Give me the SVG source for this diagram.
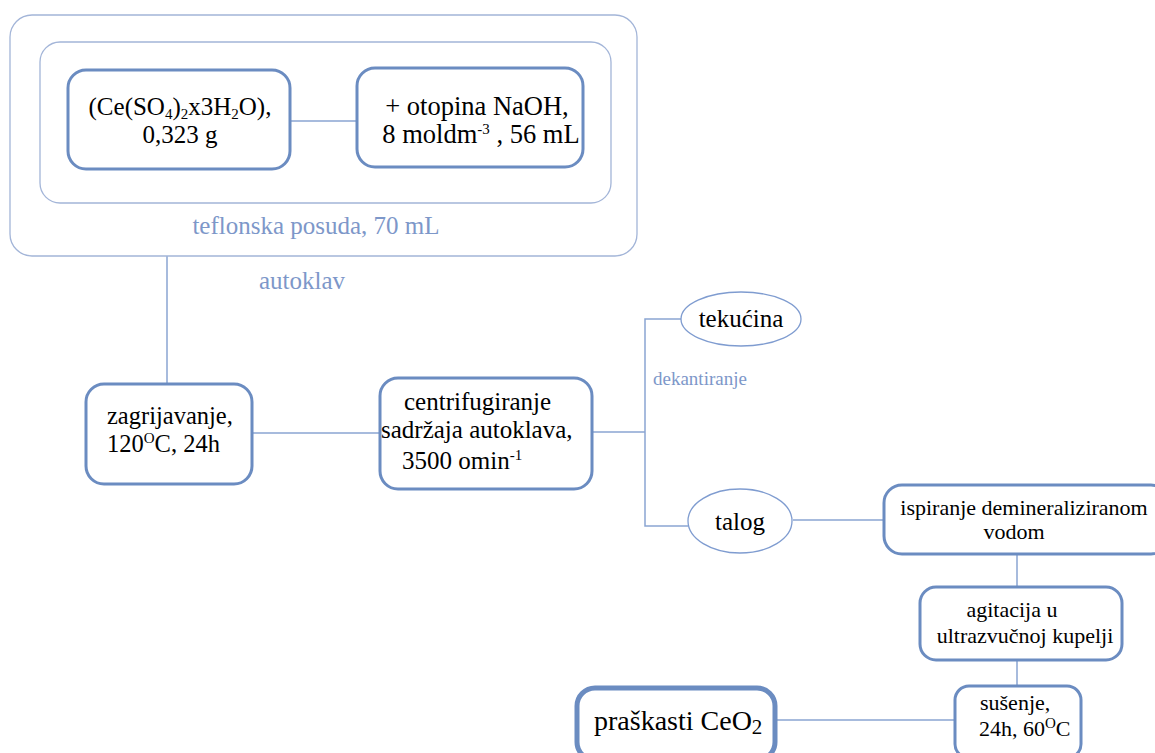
<svg xmlns="http://www.w3.org/2000/svg" width="1155" height="753" viewBox="0 0 1155 753">
<style>
.cont{fill:none;stroke:#a3b5d8;stroke-width:1.3}
.box{fill:#fff;stroke:#6b8cc1;stroke-width:3}
.thick{fill:#fff;stroke:#6b8cc1;stroke-width:5}
.ell{fill:#fff;stroke:#7f9cd0;stroke-width:1.3}
.ln{fill:none;stroke:#8aa5d2;stroke-width:1.5}
.t{font-size:25px;fill:#000}
.m{font-size:22px;fill:#000}
.s{font-size:15px}
.blue{fill:#7d97c9}
</style>
<rect width="1155" height="753" fill="#fff"/>
<g id="connectors">
<line class="ln" x1="290" y1="121" x2="357" y2="121"/>
<line class="ln" x1="167" y1="256" x2="167" y2="384"/>
<line class="ln" x1="252" y1="433" x2="380" y2="433"/>
<polyline class="ln" points="592,432 645,432"/>
<polyline class="ln" points="681,319 645,319 645,526 688,526"/>
<line class="ln" x1="793" y1="520" x2="884" y2="520"/>
<line class="ln" x1="1017" y1="554" x2="1017" y2="587"/>
<line class="ln" x1="1017" y1="660" x2="1017" y2="686"/>
<line class="ln" x1="775" y1="720" x2="955" y2="720"/>
</g>
<g id="autoklav">
<rect class="cont" x="10" y="15" width="627" height="241" rx="22"/>
<text font-family="Liberation Serif" class="blue" x="302" y="289" font-size="25" text-anchor="middle">autoklav</text>
</g>
<g id="teflonska">
<rect class="cont" x="40" y="42" width="571" height="161" rx="20"/>
<text font-family="Liberation Serif" class="blue" x="316" y="234" font-size="25" text-anchor="middle">teflonska posuda, 70 mL</text>
</g>
<g id="n1">
<rect class="box" x="68" y="70" width="222" height="99" rx="18"/>
<text font-family="Liberation Serif" class="t" x="180" y="115" text-anchor="middle">(Ce(SO<tspan class="s" dy="4">4</tspan><tspan dy="-4">)</tspan><tspan class="s" dy="4">2</tspan><tspan dy="-4">x3H</tspan><tspan class="s" dy="4">2</tspan><tspan dy="-4">O),</tspan></text>
<text font-family="Liberation Serif" class="t" x="180" y="143" text-anchor="middle">0,323 g</text>
</g>
<g id="n2">
<rect class="box" x="357" y="68" width="226" height="99" rx="18"/>
<text font-family="Liberation Serif" class="t" style="font-size:26.5px" x="477" y="115" text-anchor="middle">+ otopina NaOH,</text>
<text font-family="Liberation Serif" class="t" style="font-size:26.5px" x="481" y="143" text-anchor="middle">8 moldm<tspan class="s" dy="-9">-3</tspan><tspan dy="9"> , 56 mL</tspan></text>
</g>
<g id="n3">
<rect class="box" x="86" y="384" width="166" height="100" rx="18"/>
<text font-family="Liberation Serif" class="t" style="font-size:24.5px" x="107" y="424">zagrijavanje,</text>
<text font-family="Liberation Serif" class="t" style="font-size:24.5px" x="107" y="452">120<tspan class="s" dy="-9">O</tspan><tspan dy="9">C, 24h</tspan></text>
</g>
<g id="n4">
<rect class="box" x="380" y="378" width="212" height="111" rx="18"/>
<text font-family="Liberation Serif" class="t" x="404" y="410">centrifugiranje</text>
<text font-family="Liberation Serif" class="t" x="381" y="438">sadržaja autoklava,</text>
<text font-family="Liberation Serif" class="t" x="402" y="469">3500 omin<tspan class="s" dy="-9">-1</tspan></text>
</g>
<g id="n5">
<ellipse class="ell" cx="741" cy="319" rx="60" ry="27"/>
<text font-family="Liberation Serif" class="t" x="741" y="327" text-anchor="middle">tekućina</text>
</g>
<text font-family="Liberation Serif" class="blue" x="653" y="385" font-size="19">dekantiranje</text>
<g id="n6">
<ellipse class="ell" cx="740" cy="521" rx="52" ry="32"/>
<text font-family="Liberation Serif" class="t" x="740" y="530" text-anchor="middle">talog</text>
</g>
<g id="n7">
<rect class="box" x="884" y="485" width="285" height="69" rx="18"/>
<text font-family="Liberation Serif" class="m" x="1024" y="515" text-anchor="middle">ispiranje demineraliziranom</text>
<text font-family="Liberation Serif" class="m" x="1014" y="539" text-anchor="middle">vodom</text>
</g>
<g id="n8">
<rect class="box" x="920" y="587" width="202" height="73" rx="16"/>
<text font-family="Liberation Serif" class="m" x="1012" y="617" text-anchor="middle">agitacija u</text>
<text font-family="Liberation Serif" class="m" x="1025" y="643" text-anchor="middle">ultrazvučnoj kupelji</text>
</g>
<g id="n9">
<rect class="box" x="955" y="686" width="126" height="72" rx="14"/>
<text font-family="Liberation Serif" class="m" x="980" y="710">sušenje,</text>
<text font-family="Liberation Serif" class="m" x="979" y="736">24h, 60<tspan class="s" dy="-8">O</tspan><tspan dy="8">C</tspan></text>
</g>
<g id="n10">
<rect class="thick" x="577" y="688" width="198" height="72" rx="18"/>
<text font-family="Liberation Serif" x="594" y="730" font-size="28">praškasti CeO<tspan dy="4" font-size="21">2</tspan></text>
</g>
</svg>
